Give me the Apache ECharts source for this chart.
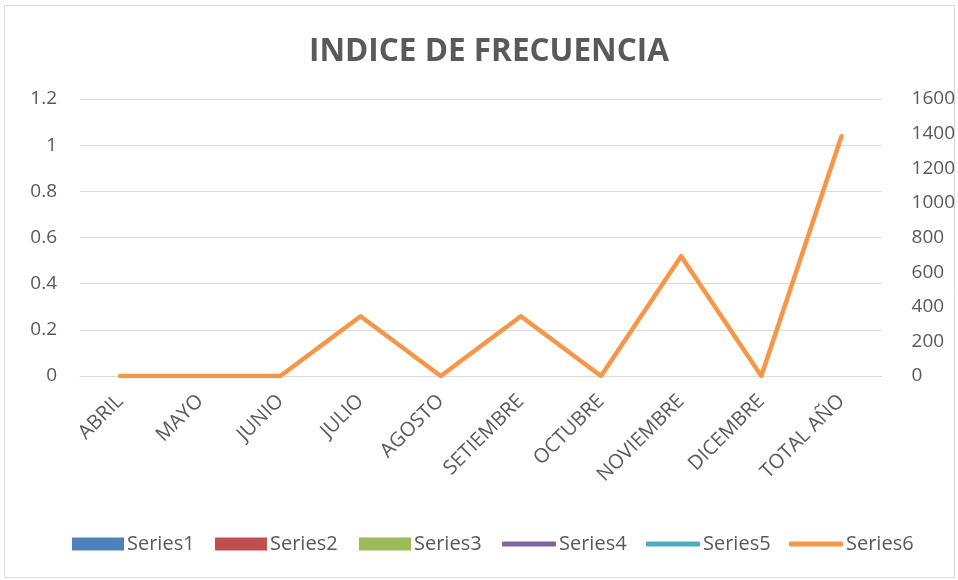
<!DOCTYPE html>
<html>
<head>
<meta charset="utf-8">
<script src="https://cdn.jsdelivr.net/npm/echarts@6/dist/echarts.min.js"></script>
<style>
	html, body { margin: 0; padding: 0; background: #fff; }
	#chart1 { width: 958px; height: 580px; }
</style>
</head>
<body>
<div id="chart1"></div>
<script>
	// datos
	var categorias = ["ABRIL", "MAYO", "JUNIO", "JULIO", "AGOSTO", "SETIEMBRE", "OCTUBRE", "NOVIEMBRE", "DICEMBRE", "TOTAL AÑO"];
	var series1 = [0, 0, 0, 0, 0, 0, 0, 0, 0, 0];
	var series2 = [0, 0, 0, 0, 0, 0, 0, 0, 0, 0];
	var series3 = [0, 0, 0, 0, 0, 0, 0, 0, 0, 0];
	var series4 = [];
	var series5 = [];
	var series6 = [0, 0, 0, 345, 0, 345, 0, 692, 0, 1385];
	var ejeIzq = { min: 0, max: 1.2, interval: 0.2 };
	var ejeDer = { min: 0, max: 1600, interval: 200 };

	var colores = ['#4F81BD', '#C0504D', '#9BBB59', '#8064A2', '#4BACC6', '#F79646'];
	var fuente = '"Open Sans", "Liberation Sans", sans-serif';
	var gris = '#595959';

	// leyenda: una por serie para colocar cada una
	var leyendaPos = [
		{ name: 'Series1', left: 72, bar: true },
		{ name: 'Series2', left: 215, bar: true },
		{ name: 'Series3', left: 359, bar: true },
		{ name: 'Series4', left: 502, bar: false },
		{ name: 'Series5', left: 646, bar: false },
		{ name: 'Series6', left: 789, bar: false }
	];
	var leyendas = leyendaPos.map(function(l) {
		return {
			data: [l.name],
			left: l.left,
			top: 534,
			padding: 0,
			icon: l.bar ? 'rect' : 'roundRect',
			itemWidth: l.bar ? 52 : 54,
			itemHeight: l.bar ? 13 : 5,
			textStyle: { color: gris, fontSize: 20, fontFamily: fuente, padding: [0, 0, 0, -2] }
		};
	});

	var myChart1 = echarts.init(document.getElementById('chart1'));
	var option1 = {
		color: colores,
		animation: false,
		title: {
			text: 'INDICE DE FRECUENCIA',
			left: 304,
			top: 31,
			textStyle: { color: gris, fontSize: 31.5, fontWeight: 'bold', fontFamily: fuente }
		},
		legend: leyendas,
		grid: { left: 80, right: 75, top: 99, bottom: 204 },
		graphic: [{
			type: 'rect',
			shape: { x: 4.5, y: 5.5, width: 950, height: 572 },
			style: { fill: 'none', stroke: '#d9d9d9', lineWidth: 1 },
			silent: true
		}],
		xAxis: [{
			type: 'category',
			data: categorias,
			boundaryGap: true,
			axisLine: { lineStyle: { color: '#d9d9d9', width: 1 } },
			axisTick: { show: false },
			axisLabel: {
				rotate: 45, //etiquetas inclinadas
				interval: 0,
				margin: 22,
				color: gris,
				fontSize: 20,
				fontFamily: fuente
			}
		}],
		yAxis: [{
			type: 'value',
			min: ejeIzq.min,
			max: ejeIzq.max,
			interval: ejeIzq.interval,
			axisLine: { show: false },
			axisTick: { show: false },
			splitLine: { lineStyle: { color: '#d9d9d9', width: 1 } },
			axisLabel: { margin: 23, color: gris, fontSize: 19, fontFamily: fuente }
		}, {
			type: 'value',
			min: ejeDer.min,
			max: ejeDer.max,
			interval: ejeDer.interval,
			position: 'right',
			axisLine: { show: false },
			axisTick: { show: false },
			splitLine: { show: false },
			axisLabel: {
				margin: 30, color: gris, fontSize: 19, fontFamily: fuente,
				formatter: function(v) { return String(v); }
			}
		}],
		series: [
			{ name: 'Series1', type: 'bar', data: series1 },
			{ name: 'Series2', type: 'bar', data: series2 },
			{ name: 'Series3', type: 'bar', data: series3 },
			{ name: 'Series4', type: 'line', data: series4, showSymbol: false },
			{ name: 'Series5', type: 'line', data: series5, showSymbol: false },
			{
				name: 'Series6',
				type: 'line',
				yAxisIndex: 1,
				data: series6,
				showSymbol: false,
				lineStyle: { width: 4.5, cap: 'round', join: 'round' }
			}
		]
	};
	myChart1.setOption(option1);
</script>
</body>
</html>
